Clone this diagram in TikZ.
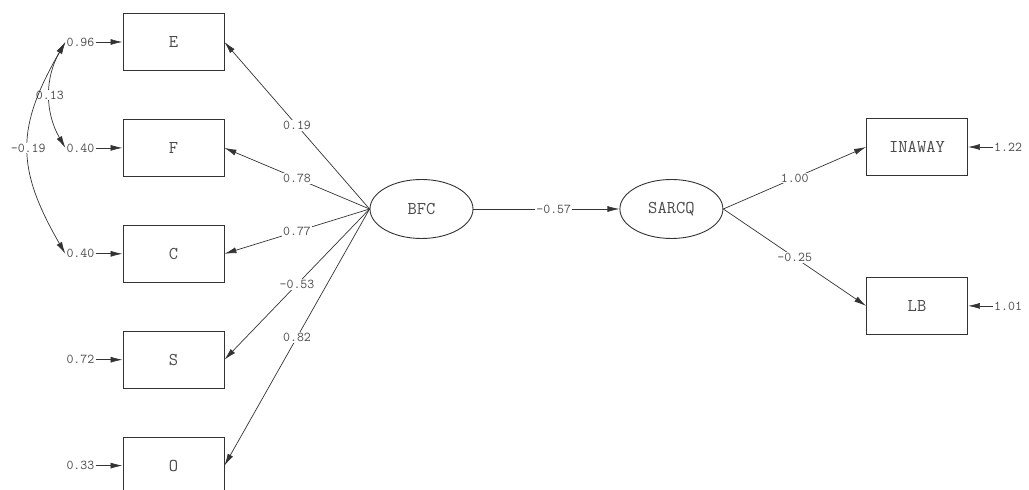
\documentclass[tikz,border=0pt]{standalone}
\usepackage{xcolor}
\usepackage{tikz}
\usetikzlibrary{positioning, arrows.meta, shapes.geometric}
\definecolor{semline}{HTML}{333333}
\definecolor{semtext}{HTML}{4A4A4A}

\begin{document}
\begin{tikzpicture}[
  x=1pt, y=1pt,
  obs/.style={
    rectangle, draw=semline, line width=0.9pt,
    minimum width=101pt, minimum height=57pt,
    font=\ttfamily\fontsize{18}{20}\selectfont, text=semtext
  },
  lat/.style={
    ellipse, draw=semline, line width=0.9pt,
    minimum width=103pt, minimum height=59pt,
    font=\ttfamily\fontsize{18}{20}\selectfont, text=semtext
  },
  err/.style={font=\ttfamily\fontsize{13.5}{14}\selectfont, text=semtext, inner sep=1pt},
  arr/.style={-{Latex[length=12pt, width=6pt]}, line width=0.7pt, color=semline},
  cov/.style={{Latex[length=12pt, width=6pt]}-{Latex[length=12pt, width=6pt]}, line width=0.7pt, color=semline},
  coef/.style={font=\ttfamily\fontsize{13.5}{14}\selectfont, text=semtext, fill=white, inner sep=1pt, midway},
]
\useasboundingbox (0,0) rectangle (1029,490);

\node[obs] (E) at (173.5,448) {E};
\node[obs, below=48pt of E] (F) {F};
\node[obs, below=48pt of F] (C) {C};
\node[obs, below=48pt of C] (S) {S};
\node[obs, below=48pt of S] (O) {O};

\node[lat] (BFC) at (421.5,281) {BFC};
\node[lat, right=146pt of BFC] (SARCQ) {SARCQ};

\node[obs] (INAWAY) at (917,343) {INAWAY};
\node[obs, below=101pt of INAWAY] (LB) {LB};

% Error terms
\node[err, left=27pt of E] (eE) {0.96};
\node[err, left=27pt of F] (eF) {0.40};
\node[err, left=27pt of C] (eC) {0.40};
\node[err, left=27pt of S] (eS) {0.72};
\node[err, left=27pt of O] (eO) {0.33};
\node[err, right=25pt of INAWAY] (eI) {1.22};
\node[err, right=25pt of LB] (eL) {1.01};

\draw[arr] (eE) -- (E);
\draw[arr] (eF) -- (F);
\draw[arr] (eC) -- (C);
\draw[arr] (eS) -- (S);
\draw[arr] (eO) -- (O);
\draw[arr] (eI) -- (INAWAY);
\draw[arr] (eL) -- (LB);

% Covariances
\draw[cov] (eE.west) to[bend right=30] node[coef] {0.13} (eF.west);
\draw[cov] (eE.west) to[bend right=30, looseness=1.2] node[coef] {-0.19} (eC.west);

% Loadings
\draw[arr] (BFC.west) -- node[coef] {0.19} (E.east);
\draw[arr] (BFC.west) -- node[coef] {0.78} (F.east);
\draw[arr] (BFC.west) -- node[coef] {0.77} (C.east);
\draw[arr] (BFC.west) -- node[coef] {-0.53} (S.east);
\draw[arr] (BFC.west) -- node[coef] {0.82} (O.east);

% Structural paths
\draw[arr] (BFC) -- node[coef, pos=0.55] {-0.57} (SARCQ);
\draw[arr] (SARCQ.east) -- node[coef] {1.00} (INAWAY.west);
\draw[arr] (SARCQ.east) -- node[coef] {-0.25} (LB.west);

\end{tikzpicture}
\end{document}
